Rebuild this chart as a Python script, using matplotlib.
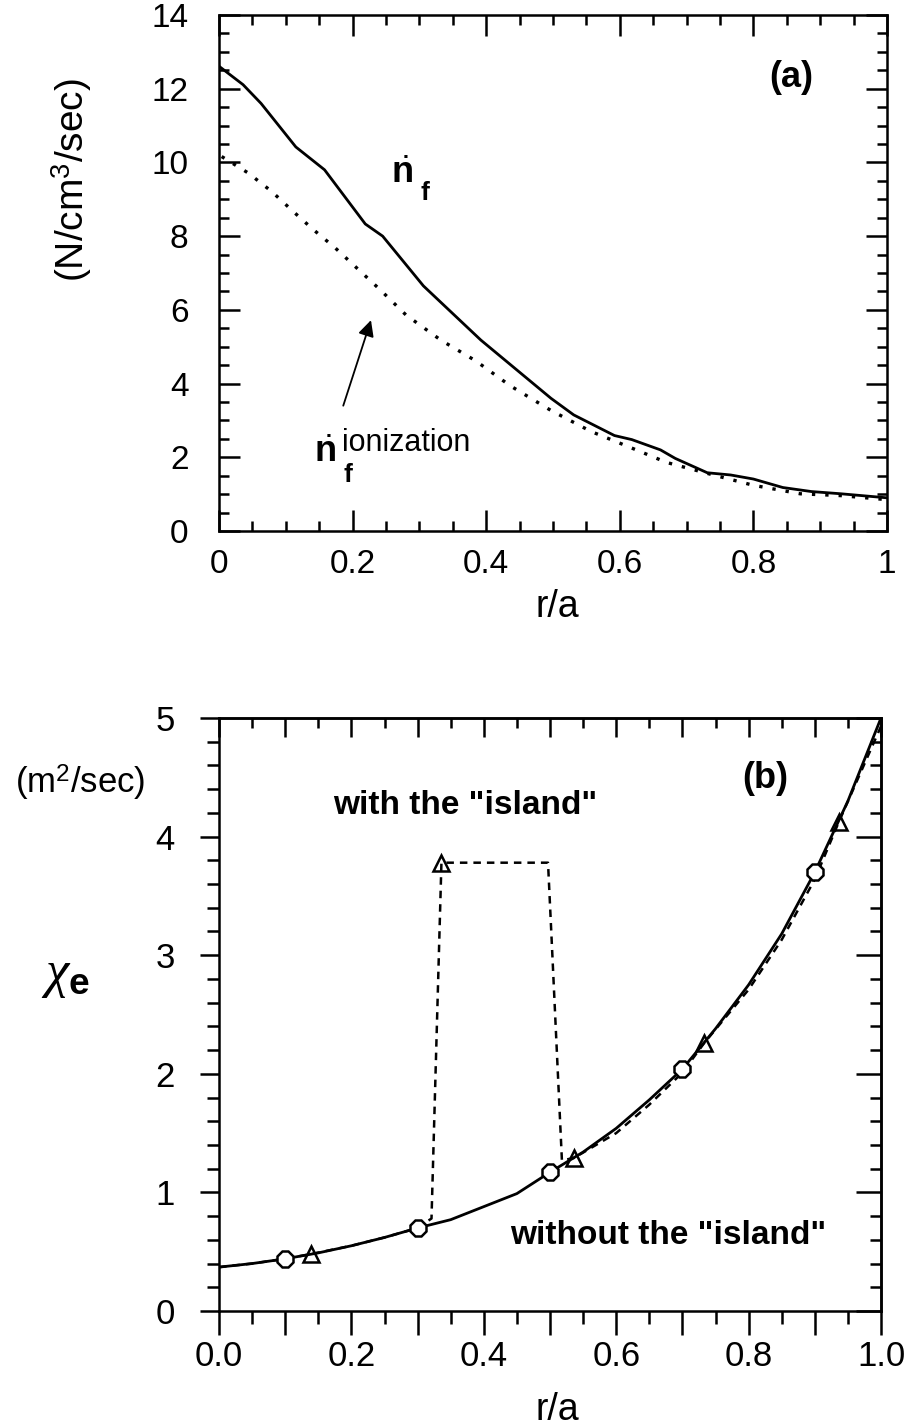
import numpy as np
import matplotlib
matplotlib.use("Agg")
import matplotlib.pyplot as plt
from matplotlib.ticker import MultipleLocator, FuncFormatter, NullFormatter

plt.rcParams['font.family'] = ['Liberation Sans', 'DejaVu Sans']
plt.rcParams['mathtext.fontset'] = 'custom'
plt.rcParams['mathtext.rm'] = 'Liberation Sans'
plt.rcParams['mathtext.bf'] = 'Liberation Sans:bold'
plt.rcParams['mathtext.it'] = 'Liberation Serif:italic'

# ---- panel (a): fuelling rate profiles ----
r_nf = [0.0, 0.036, 0.063, 0.115, 0.158, 0.219, 0.245, 0.306, 0.392, 0.497, 0.531,
        0.592, 0.618, 0.661, 0.683, 0.731, 0.766, 0.80, 0.844, 0.887, 0.931, 1.0]
nf = [12.61, 12.11, 11.60, 10.42, 9.80, 8.33, 8.00, 6.65, 5.18, 3.60, 3.15,
      2.59, 2.48, 2.20, 1.97, 1.58, 1.52, 1.41, 1.18, 1.07, 1.01, 0.90]

r_ion = [0.004, 0.044, 0.079, 0.111, 0.141, 0.174, 0.206, 0.241, 0.280, 0.332, 0.384,
         0.436, 0.497, 0.557, 0.618, 0.670, 0.740, 0.80, 0.87, 0.931, 1.0]
nf_ion = [10.16, 9.71, 9.21, 8.67, 8.18, 7.68, 7.14, 6.55, 5.86, 5.18, 4.62,
          3.94, 3.27, 2.70, 2.25, 1.86, 1.52, 1.24, 1.01, 0.96, 0.85]

# ---- panel (b): chi_e profiles ----
r_chi = [0.0, 0.05, 0.1, 0.15, 0.2, 0.25, 0.3, 0.35, 0.4, 0.45, 0.5,
         0.55, 0.6, 0.65, 0.7, 0.75, 0.8, 0.85, 0.9, 0.95, 1.0]
chi_no_island = [0.37, 0.40, 0.44, 0.49, 0.55, 0.62, 0.70, 0.77, 0.88, 0.99, 1.17,
                 1.34, 1.54, 1.78, 2.04, 2.38, 2.75, 3.18, 3.70, 4.30, 5.00]
circle_idx = [2, 6, 10, 14, 18]

r_island = [0.0, 0.05, 0.1, 0.139, 0.2, 0.25, 0.3, 0.321, 0.336, 0.497, 0.503,
            0.518, 0.536, 0.6, 0.65, 0.7, 0.733, 0.8, 0.85, 0.9, 0.936, 1.0]
chi_island = [0.37, 0.40, 0.44, 0.48, 0.55, 0.62, 0.70, 0.78, 3.78, 3.78, 3.07,
              1.27, 1.29, 1.50, 1.74, 2.01, 2.26, 2.71, 3.13, 3.64, 4.12, 4.93]
triangle_idx = [3, 8, 12, 16, 20]

W, H = 909, 1427
fig = plt.figure(figsize=(W / 100, H / 100), dpi=100)


def box(l, t, r, b):
    return [l / W, 1 - b / H, (r - l) / W, (b - t) / H]


def fpx(x, y):
    return x / W, 1 - y / H


# ================= panel (a) =================
ax1 = fig.add_axes(box(219, 15, 887, 531))
ax1.plot(r_nf, nf, color='k', lw=2.0)
ax1.plot(r_ion, nf_ion, color='k', lw=2.4, linestyle=(0, (1.0, 3.0)))
ax1.set_xlim(0, 1)
ax1.set_ylim(0, 14)
ax1.xaxis.set_major_locator(MultipleLocator(0.2))
ax1.xaxis.set_minor_locator(MultipleLocator(0.05))
ax1.yaxis.set_major_locator(MultipleLocator(2))
ax1.yaxis.set_minor_locator(MultipleLocator(0.5))
fmt = FuncFormatter(lambda v, p: '%g' % round(v, 2))
ax1.xaxis.set_major_formatter(fmt)
ax1.yaxis.set_major_formatter(fmt)
ax1.tick_params(which='both', direction='in', top=True, right=True,
                width=1.8, labelsize=24)
ax1.tick_params(which='major', length=15)
ax1.tick_params(which='minor', length=7)
ax1.tick_params(axis='x', pad=13)
ax1.tick_params(axis='y', pad=22)
for s in ax1.spines.values():
    s.set_linewidth(1.8)

ax1.text(0.856, 12.31, '(a)', fontsize=26, fontweight='bold', ha='center', va='center')
ax1.text(0.258, 9.45, r'$\dot{\mathbf{n}}$', fontsize=26, ha='left', va='baseline')
ax1.text(0.301, 8.97, 'f', fontsize=19, fontweight='bold', ha='left', va='baseline')
ax1.text(0.142, 1.87, r'$\dot{\mathbf{n}}$', fontsize=26, ha='left', va='baseline')
ax1.text(0.187, 1.33, 'f', fontsize=19, fontweight='bold', ha='left', va='baseline')
ax1.text(0.184, 2.17, 'ionization', fontsize=22, ha='left', va='baseline')
ax1.annotate('', xy=(0.2275, 5.72), xytext=(0.186, 3.40),
             arrowprops=dict(arrowstyle='-|>', color='k', lw=1.3,
                             mutation_scale=24, shrinkA=0, shrinkB=0))

fig.text(*fpx(72, 180), r'(N/cm$^3$/sec)', fontsize=28, rotation=90,
         ha='center', va='center')
fig.text(*fpx(557, 607), 'r/a', fontsize=27, ha='center', va='center')

# ================= panel (b) =================
ax2 = fig.add_axes(box(219, 718, 881, 1311))
ax2.plot(r_island, chi_island, color='k', lw=1.8, linestyle=(0, (3.0, 2.4)),
         marker='^', ms=12, mfc='none', mec='k', mew=1.8,
         markevery=triangle_idx, zorder=2)
ax2.plot(r_chi, chi_no_island, color='k', lw=2.0, marker='8', ms=13,
         mfc='white', mec='k', mew=1.8, markevery=circle_idx, zorder=3)
ax2.set_xlim(0, 1)
ax2.set_ylim(0, 5)
ax2.xaxis.set_major_locator(MultipleLocator(0.1))
ax2.xaxis.set_minor_locator(MultipleLocator(0.05))
ax2.xaxis.set_major_formatter(FuncFormatter(
    lambda v, p: '%.1f' % v if int(round(v * 10)) % 2 == 0 else ''))
ax2.yaxis.set_major_locator(MultipleLocator(1))
ax2.yaxis.set_minor_locator(MultipleLocator(0.2))
ax2.tick_params(which='both', direction='out', top=False, right=False,
                width=1.8, labelsize=25)
ax2.tick_params(axis='x', which='major', length=17, pad=4)
ax2.tick_params(axis='x', which='minor', length=9)
ax2.tick_params(axis='y', which='major', length=14, pad=18)
ax2.tick_params(axis='y', which='minor', length=9)
for s in ax2.spines.values():
    s.set_linewidth(1.8)

sx = ax2.secondary_xaxis('top')
sx.xaxis.set_major_locator(MultipleLocator(0.1))
sx.xaxis.set_minor_locator(MultipleLocator(0.05))
sx.xaxis.set_major_formatter(NullFormatter())
sx.tick_params(which='both', direction='in', width=1.8)
sx.tick_params(which='major', length=14)
sx.tick_params(which='minor', length=7)
sx.spines['top'].set_linewidth(1.8)

sy = ax2.secondary_yaxis('right')
sy.yaxis.set_major_locator(MultipleLocator(1))
sy.yaxis.set_minor_locator(MultipleLocator(0.2))
sy.yaxis.set_major_formatter(NullFormatter())
sy.tick_params(which='both', direction='in', width=1.8)
sy.tick_params(which='major', length=18)
sy.tick_params(which='minor', length=8)
sy.spines['right'].set_linewidth(1.8)

ax2.text(0.825, 4.49, '(b)', fontsize=26, fontweight='bold', ha='center', va='center')
ax2.text(0.372, 4.26, 'with the "island"', fontsize=24, fontweight='bold',
         ha='center', va='center')
ax2.text(0.678, 0.64, 'without the "island"', fontsize=24, fontweight='bold',
         ha='center', va='center')

fig.text(*fpx(80, 783), r'(m$^2$/sec)', fontsize=25, ha='center', va='center')
fig.text(*fpx(65, 975), r'$\chi_{\mathbf{e}}$', fontsize=38, ha='center', va='center')
fig.text(*fpx(557, 1410), 'r/a', fontsize=27, ha='center', va='center')

fig.savefig('out.png', dpi=100)
